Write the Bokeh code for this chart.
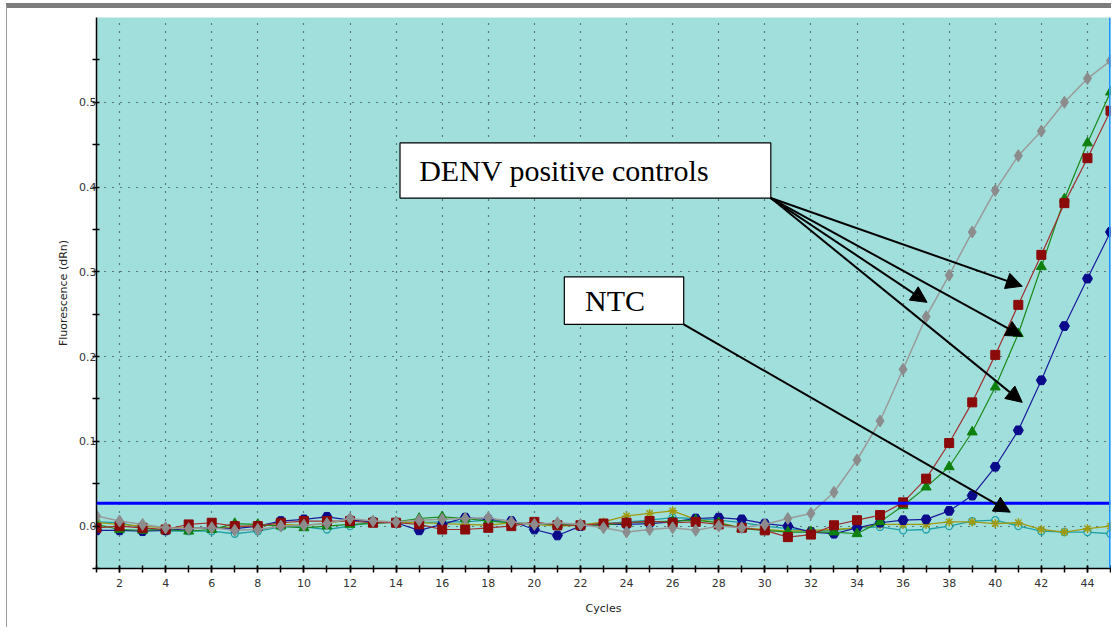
from bokeh.plotting import figure
from bokeh.models import (Range1d, FixedTicker, PrintfTickFormatter, Span, Arrow,
                          NormalHead, ColumnDataSource)
from bokeh.core.properties import value
from bokeh.embed import file_html
from bokeh.resources import INLINE

cycles = list(range(1, 46))

gray_vals = [0.012, 0.006, 0.002, -0.002, -0.003, -0.002, -0.005, -0.004, 0.000, 0.001,
             0.003, 0.009, 0.006, 0.005, 0.007, 0.008, 0.009, 0.010, 0.005, 0.002,
             0.004, 0.002, -0.002, -0.007, -0.004, -0.002, -0.005, 0.000, -0.002, 0.002,
             0.009, 0.015, 0.040, 0.078, 0.124, 0.185, 0.247, 0.296, 0.347, 0.396,
             0.437, 0.466, 0.500, 0.528, 0.549]
red_vals = [-0.002, 0.000, -0.002, -0.004, 0.002, 0.004, 0.000, 0.000, 0.004, 0.006,
            0.006, 0.006, 0.004, 0.004, 0.002, -0.004, -0.004, -0.002, 0.000, 0.005,
            0.001, 0.001, 0.003, 0.004, 0.006, 0.004, 0.005, 0.002, -0.002, -0.005,
            -0.013, -0.010, 0.001, 0.007, 0.013, 0.028, 0.056, 0.098, 0.146, 0.202,
            0.261, 0.320, 0.381, 0.434, 0.490]
green_vals = [0.002, -0.004, -0.005, -0.004, -0.006, -0.004, 0.003, 0.002, 0.000, -0.002,
              0.000, 0.002, 0.003, 0.005, 0.009, 0.011, 0.009, 0.006, 0.004, 0.003,
              0.002, 0.001, 0.001, 0.004, 0.005, 0.006, 0.007, 0.004, -0.003, -0.005,
              -0.007, -0.007, -0.007, -0.009, 0.005, 0.024, 0.046, 0.070, 0.111, 0.164,
              0.227, 0.306, 0.386, 0.452, 0.512]
blue_vals = [-0.005, -0.005, -0.006, -0.005, -0.003, -0.002, -0.003, 0.000, 0.006, 0.008,
             0.011, 0.007, 0.005, 0.004, -0.005, 0.002, 0.010, 0.008, 0.006, -0.004,
             -0.011, 0.000, 0.002, 0.002, 0.003, 0.005, 0.009, 0.010, 0.008, 0.003,
             0.000, -0.007, -0.009, -0.002, 0.004, 0.007, 0.008, 0.018, 0.036, 0.070,
             0.113, 0.172, 0.236, 0.292, 0.347]
ntc1_vals = [0.004, 0.002, 0.000, -0.002, -0.002, -0.003, -0.001, 0.000, 0.002, 0.001,
             0.003, 0.008, 0.006, 0.005, 0.004, 0.003, 0.002, 0.001, 0.004, 0.002,
             0.000, 0.001, 0.005, 0.012, 0.015, 0.018, 0.008, 0.004, -0.002, -0.004,
             -0.006, -0.005, -0.004, -0.002, 0.002, 0.002, 0.002, 0.005, 0.005, 0.003,
             0.004, -0.004, -0.007, -0.003, 0.000]
ntc2_vals = [0.005, 0.004, -0.002, -0.006, -0.006, -0.006, -0.009, -0.006, -0.001, -0.001,
             -0.004, 0.000, 0.005, 0.005, 0.004, 0.005, 0.005, 0.007, 0.004, 0.002,
             0.002, 0.002, 0.003, 0.005, 0.007, 0.010, 0.009, 0.007, 0.004, 0.000,
             -0.003, -0.006, -0.005, -0.002, -0.001, -0.005, -0.004, 0.000, 0.006, 0.007,
             0.000, -0.006, -0.007, -0.007, -0.009]

threshold = 0.027
x_major = list(range(2, 45, 2))
x_minor = list(range(1, 46))
y_major = [0.0, 0.1, 0.2, 0.3, 0.4, 0.5]
y_minor = [-0.05, 0.05, 0.15, 0.25, 0.35, 0.45, 0.55]

# annotation boxes (data units)
box_left = [14.17, 21.30]
box_right = [30.26, 26.48]
box_top = [0.452, 0.294]
box_bottom = [0.387, 0.238]
box_text = ["DENV positive controls", "NTC"]
text_x = [15.0, 22.2]
text_y = [0.4195, 0.266]

arrow_x0 = [30.26, 30.26, 30.26, 30.26, 26.48]
arrow_y0 = [0.387, 0.387, 0.387, 0.387, 0.238]
arrow_x1 = [41.17, 37.04, 41.17, 41.17, 40.65]
arrow_y1 = [0.283, 0.264, 0.224, 0.146, 0.0165]

BG = "#A1DFDC"

p = figure(width=1105, height=624, output_backend="svg", toolbar_location=None,
           x_range=Range1d(1, 45), y_range=Range1d(-0.05, 0.6),
           min_border_left=89, min_border_right=2, min_border_top=9, min_border_bottom=64)
p.styles = {"border-top": "5px solid #7d7d7d", "border-left": "1px solid #9a9a9a",
            "margin-top": "3px", "margin-left": "6px"}
p.background_fill_color = BG
p.border_fill_color = "white"
p.outline_line_color = None

for ax, maj, mnr in ((p.xaxis[0], x_major, x_minor), (p.yaxis[0], y_major, y_minor)):
    ax.ticker = FixedTicker(ticks=maj, minor_ticks=mnr)
    ax.axis_line_color = "black"
    ax.axis_line_width = 1.5
    ax.major_tick_line_color = "black"
    ax.minor_tick_line_color = "black"
    ax.major_tick_line_width = 1.5
    ax.minor_tick_line_width = 1.5
    ax.major_tick_in = 3
    ax.major_tick_out = 4
    ax.minor_tick_in = 3
    ax.minor_tick_out = 4
    ax.major_label_text_font = "DejaVu Sans"
    ax.major_label_text_font_size = "11px"
    ax.major_label_text_color = "#333333"
    ax.axis_label_text_font = "DejaVu Sans"
    ax.axis_label_text_font_size = "11px"
    ax.axis_label_text_font_style = "normal"
    ax.axis_label_text_color = "#222222"

p.yaxis.formatter = PrintfTickFormatter(format="%.1f")
p.xaxis.axis_label = "Cycles"
p.yaxis.axis_label = "Fluorescence (dRn)"
p.xaxis.major_label_standoff = 6
p.xaxis.axis_label_standoff = 12
p.yaxis.major_label_standoff = -4
p.yaxis.axis_label_standoff = 6

for g in (p.xgrid[0], p.ygrid[0]):
    g.grid_line_color = "black"
    g.grid_line_dash = "1 7"
    g.grid_line_width = 1.2
    g.grid_line_alpha = 0.9

# threshold
p.add_layout(Span(location=threshold, dimension="width", line_color="#0000FF", line_width=3))
# right edge blue line
p.add_layout(Span(location=45, dimension="height", line_color="#1E90FF", line_width=3))

# curves
p.line(cycles, ntc2_vals, line_color="#1FA0A6", line_width=1.3)
p.scatter(cycles, ntc2_vals, marker="circle", size=7, line_color="#1FA0A6", fill_color=BG, line_width=1.3)
p.line(cycles, ntc1_vals, line_color="#A09A10", line_width=1.3)
p.scatter(cycles, ntc1_vals, marker="asterisk", size=9, line_color="#A09A10", line_width=1.5)

p.line(cycles, blue_vals, line_color="#1A1A9A", line_width=1.2)
p.scatter(cycles, blue_vals, marker="hex", size=10, line_color="#0A0A8A", fill_color="#0A0A8A")
p.line(cycles, green_vals, line_color="#1A8A1A", line_width=1.2)
p.scatter(cycles, green_vals, marker="triangle", size=10, line_color="#0E800E", fill_color="#0E800E")
p.line(cycles, red_vals, line_color="#A03030", line_width=1.2)
p.scatter(cycles, red_vals, marker="square", size=9, line_color="#8B0A0A", fill_color="#8B0A0A")
p.line(cycles, gray_vals, line_color="#9A9A9A", line_width=1.5)
p.scatter(cycles, gray_vals, marker="diamond", size=12, line_color="#8C8C8C", fill_color="#8C8C8C")

# annotation boxes
p.quad(left=box_left, right=box_right, top=box_top, bottom=box_bottom,
       fill_color="white", line_color="black", line_width=1.2)
p.text(x=text_x, y=text_y, text=box_text, text_font=value("Liberation Serif"),
       text_font_size="30px", text_baseline="middle", text_align="left", text_color="black")

arr_src = ColumnDataSource(dict(x0=arrow_x0, y0=arrow_y0, x1=arrow_x1, y1=arrow_y1))
p.add_layout(Arrow(source=arr_src, x_start="x0", y_start="y0", x_end="x1", y_end="y1",
                   line_color="black", line_width=2,
                   end=NormalHead(size=16, fill_color="black", line_color="black")))

open("out.html", "w").write(file_html(p, INLINE))
